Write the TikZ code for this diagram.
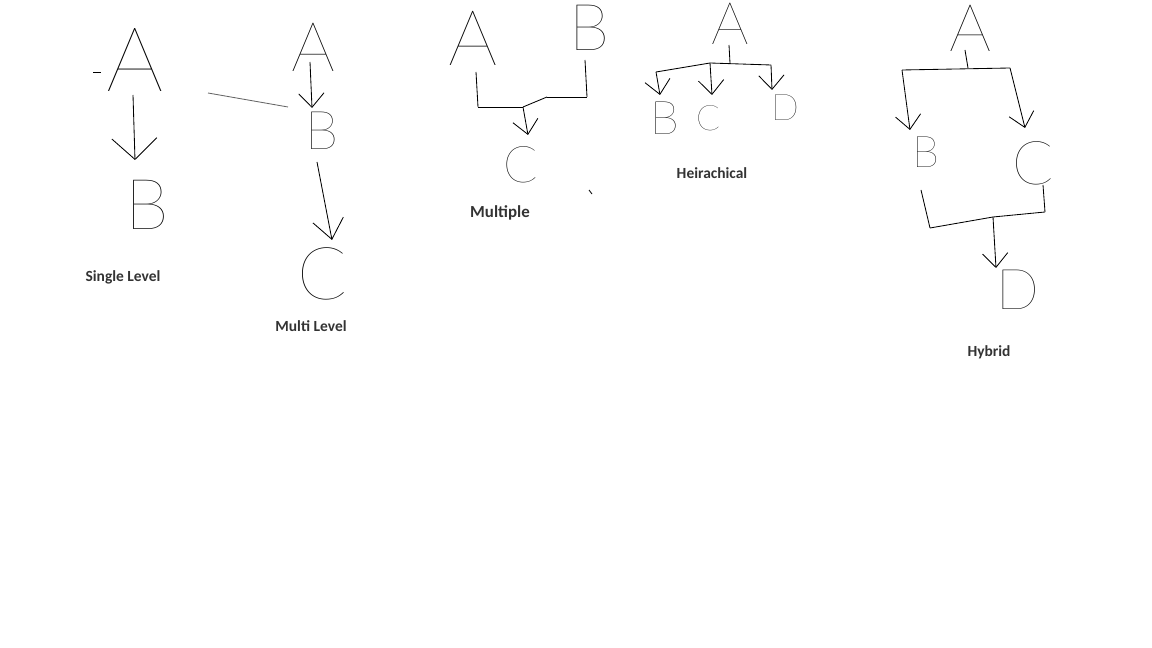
\documentclass[tikz,border=0pt]{standalone}
\usepackage{fontspec}
\usepackage[svgnames]{xcolor}
\usepackage{tikz}
\usetikzlibrary{arrows.meta}
\newfontfamily\handfont{Lato Thin}
\newfontfamily\labelfont{Carlito}
\newcommand\lsize[1]{\fontsize{#1}{#1}\selectfont}
\tikzstyle{none}=[inner sep=0pt]
\tikzstyle{letter}=[inner sep=0pt]
\tikzstyle{caption}=[inner sep=0pt,font=\labelfont\bfseries\fontsize{11}{13}\selectfont,text=Black!80]
\tikzstyle{arrow}=[-{Straight Barb[length=10pt,width=18pt]},draw=Black,line width=0.6]
\tikzstyle{simple}=[-,draw=Black,line width=0.6]

\begin{document}
\begin{tikzpicture}[x=0.025cm,y=-0.025cm]
  \useasboundingbox (0,0) rectangle (1152,648);
  % single level
  \node [style=letter,font=\handfont\lsize{64}] (sa) at (135, 60) {A};
  \node [style=letter,font=\handfont\lsize{50}] (sb) at (147, 205) {B};
  \node [style=none] (s1) at (133, 95) {};
  \node [style=none] (s2) at (135, 160) {};
  \node [style=none] (s3) at (93, 72) {};
  \node [style=none] (s4) at (101, 72) {};
  \node [style=none] (s5) at (208, 93) {};
  \node [style=none] (s6) at (288, 107) {};
  \node [style=caption] (sl) at (123, 277) {Single Level};
  \draw [style=arrow,-{Straight Barb[length=15pt,width=32pt]}] (s1.center) to (s2.center);
  \draw [style=simple] (s3.center) to (s4.center);
  \draw [style=simple,draw=Black!60] (s5.center) to (s6.center);
  % multi level
  \node [style=letter,font=\handfont\lsize{49}] (ma) at (313, 47) {A};
  \node [style=letter,font=\handfont\lsize{38}] (mb) at (322, 131) {B};
  \node [style=letter,font=\handfont\lsize{52}] (mc) at (322, 274) {C};
  \node [style=none] (m1) at (310, 62) {};
  \node [style=none] (m2) at (312, 108) {};
  \node [style=none] (m3) at (317, 162) {};
  \node [style=none] (m4) at (332, 240) {};
  \node [style=caption] (ml) at (311, 326) {Multi Level};
  \draw [style=arrow] (m1.center) to (m2.center);
  \draw [style=arrow,-{Straight Barb[length=14pt,width=22pt]}] (m3.center) to (m4.center);
  % multiple
  \node [style=letter,font=\handfont\lsize{55}] (xa) at (473, 38) {A};
  \node [style=letter,font=\handfont\lsize{46}] (xb) at (590, 28) {B};
  \node [style=letter,font=\handfont\lsize{36}] (xc) at (521, 165) {C};
  \node [style=none] (x1) at (476, 72) {};
  \node [style=none] (x2) at (478, 107) {};
  \node [style=none] (x3) at (523, 107) {};
  \node [style=none] (x4) at (585, 60) {};
  \node [style=none] (x5) at (587, 97) {};
  \node [style=none] (x6) at (547, 97) {};
  \node [style=none] (x7) at (528, 135) {};
  \node [style=none] (x8) at (589, 190) {};
  \node [style=none] (x9) at (592, 194) {};
  \node [style=caption,font=\labelfont\bfseries\fontsize{12}{14}\selectfont] (xl) at (500, 213) {Multiple};
  \draw [style=simple] (x1.center) to (x2.center);
  \draw [style=simple] (x2.center) to (x3.center);
  \draw [style=simple] (x4.center) to (x5.center);
  \draw [style=simple] (x5.center) to (x6.center);
  \draw [style=simple] (x6.center) to (x3.center);
  \draw [style=arrow] (x3.center) to (x7.center);
  \draw [style=simple] (x8.center) to (x9.center);
  % hierarchical
  \node [style=letter,font=\handfont\lsize{42}] (ha) at (730, 24) {A};
  \node [style=letter,font=\handfont\lsize{33}] (hb) at (665, 118) {B};
  \node [style=letter,font=\handfont\lsize{25}] (hc) at (708, 118) {C};
  \node [style=letter,font=\handfont\lsize{26}] (hd) at (785, 108) {D};
  \node [style=none] (h1) at (729, 45) {};
  \node [style=none] (h2) at (730, 63) {};
  \node [style=none] (h3) at (656, 72) {};
  \node [style=none] (h4) at (710, 63) {};
  \node [style=none] (h5) at (771, 65) {};
  \node [style=none] (h6) at (660, 95) {};
  \node [style=none] (h7) at (712, 95) {};
  \node [style=none] (h8) at (772, 90) {};
  \node [style=caption] (hl) at (712, 173) {Heirachical};
  \draw [style=simple] (h1.center) to (h2.center);
  \draw [style=simple] (h3.center) to (h4.center);
  \draw [style=simple] (h4.center) to (h5.center);
  \draw [style=arrow] (h3.center) to (h6.center);
  \draw [style=arrow] (h4.center) to (h7.center);
  \draw [style=arrow] (h5.center) to (h8.center);
  % hybrid
  \node [style=letter,font=\handfont\lsize{47}] (ya) at (971, 28) {A};
  \node [style=letter,font=\handfont\lsize{31}] (yb) at (926, 152) {B};
  \node [style=letter,font=\handfont\lsize{43}] (yc) at (1033, 163) {C};
  \node [style=letter,font=\handfont\lsize{40}] (yd) at (1018, 290) {D};
  \node [style=none] (y1) at (965, 50) {};
  \node [style=none] (y2) at (968, 68) {};
  \node [style=none] (y3) at (902, 70) {};
  \node [style=none] (y4) at (1010, 68) {};
  \node [style=none] (y5) at (910, 130) {};
  \node [style=none] (y6) at (1025, 128) {};
  \node [style=none] (y7) at (921, 190) {};
  \node [style=none] (y8) at (930, 228) {};
  \node [style=none] (y9) at (993, 217) {};
  \node [style=none] (y10) at (1043, 185) {};
  \node [style=none] (y11) at (1045, 212) {};
  \node [style=none] (y12) at (996, 268) {};
  \node [style=caption] (yl) at (989, 352) {Hybrid};
  \draw [style=simple] (y1.center) to (y2.center);
  \draw [style=simple] (y3.center) to (y4.center);
  \draw [style=arrow] (y3.center) to (y5.center);
  \draw [style=arrow] (y4.center) to (y6.center);
  \draw [style=simple] (y7.center) to (y8.center);
  \draw [style=simple] (y8.center) to (y9.center);
  \draw [style=simple] (y10.center) to (y11.center);
  \draw [style=simple] (y11.center) to (y9.center);
  \draw [style=arrow] (y9.center) to (y12.center);
\end{tikzpicture}
\end{document}
